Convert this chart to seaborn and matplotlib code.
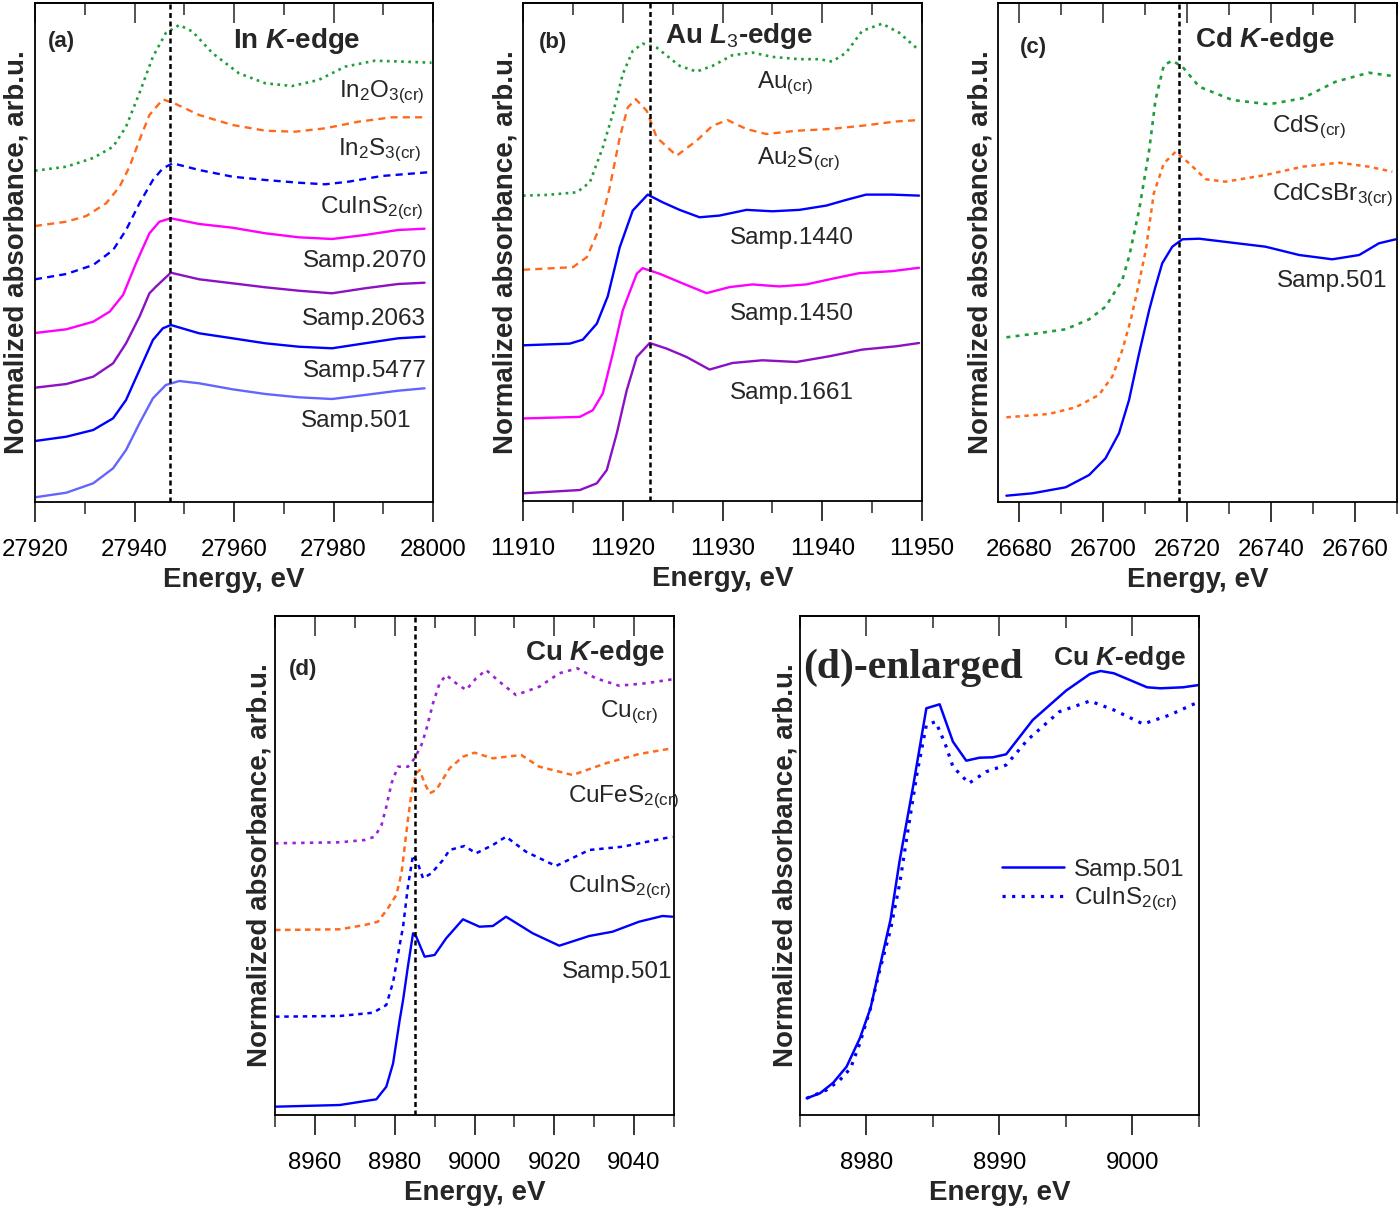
import numpy as np
import pandas as pd
import matplotlib
matplotlib.use("Agg")
import matplotlib.pyplot as plt
import seaborn as sns
from matplotlib.ticker import MultipleLocator, NullFormatter

# ---------------- data (normalized absorbance with vertical offsets, arb.u.) ----------------
# Panel (a): In K-edge
a_In2O3_E = [27920, 27926.3, 27931.7, 27935.7, 27938.3, 27941, 27943.7, 27946.3, 27949, 27951.7,
             27955.7, 27961, 27966.3, 27971.7, 27977, 27982.3, 27988.3, 27994.3, 27999.7]
a_In2O3_y = [3.313, 3.353, 3.44, 3.553, 3.753, 4.09, 4.453, 4.69, 4.77, 4.703,
             4.487, 4.287, 4.187, 4.16, 4.22, 4.353, 4.413, 4.403, 4.393]
a_In2S3_E = [27920, 27926.3, 27930.3, 27934.3, 27937, 27939, 27941, 27943, 27945.7, 27948.3,
             27953, 27959.7, 27966.3, 27972.3, 27978.3, 27985, 27991.7, 27998.3]
a_In2S3_y = [2.76, 2.803, 2.86, 2.987, 3.153, 3.353, 3.62, 3.87, 4.027, 3.98,
             3.87, 3.77, 3.713, 3.703, 3.737, 3.803, 3.847, 3.847]
a_CuInS2_E = [27920, 27926.3, 27931.7, 27935.7, 27938.3, 27941, 27943.7, 27945.7, 27947.7, 27953,
              27959.7, 27966.3, 27973, 27978.3, 27983, 27989.7, 27999.7]
a_CuInS2_y = [2.227, 2.28, 2.37, 2.52, 2.72, 2.987, 3.22, 3.337, 3.387, 3.32,
              3.253, 3.22, 3.193, 3.177, 3.203, 3.26, 3.3]
a_s2070_E = [27920, 27926.3, 27931.7, 27935, 27937.7, 27940.3, 27943, 27945, 27947.3, 27953,
             27959.7, 27966.3, 27973, 27979.7, 27986.3, 27993, 27998.3]
a_s2070_y = [1.69, 1.727, 1.803, 1.903, 2.07, 2.387, 2.687, 2.803, 2.837, 2.78,
             2.743, 2.687, 2.647, 2.63, 2.67, 2.72, 2.733]
a_s2063_E = [27920, 27926.3, 27931.7, 27935.7, 27938.3, 27941, 27943, 27944.3, 27947.3, 27953,
             27959.7, 27966.3, 27973, 27979.7, 27986.3, 27993, 27998.3]
a_s2063_y = [1.143, 1.18, 1.253, 1.387, 1.587, 1.853, 2.087, 2.153, 2.293, 2.227,
             2.187, 2.147, 2.113, 2.087, 2.137, 2.18, 2.193]
a_s5477_E = [27920, 27926.3, 27931.7, 27935.7, 27938.3, 27941, 27943.7, 27945.7, 27947.3, 27953,
             27959.7, 27966.3, 27973, 27979.7, 27986.3, 27993, 27998.3]
a_s5477_y = [0.61, 0.653, 0.72, 0.837, 1.02, 1.32, 1.62, 1.737, 1.77, 1.687,
             1.637, 1.587, 1.553, 1.537, 1.587, 1.637, 1.653]
a_s501_E = [27920, 27926.3, 27931.7, 27935.7, 27938.3, 27941, 27943.7, 27946.3, 27949, 27953,
            27959.7, 27966.3, 27973, 27979.7, 27986.3, 27993, 27998.3]
a_s501_y = [0.047, 0.093, 0.187, 0.337, 0.52, 0.787, 1.037, 1.17, 1.21, 1.187,
            1.127, 1.08, 1.047, 1.03, 1.07, 1.113, 1.137]
a_edge = 27947.2

# Panel (b): Au L3-edge
b_Au_E = [11910.0, 11912.4, 11915.4, 11916.7, 11918.0, 11919.0, 11920.0, 11921.0, 11922.0, 11923.4,
          11925.7, 11927.4, 11929.0, 11931.0, 11933.0, 11935.0, 11937.7, 11939.7, 11941.0, 11942.4,
          11944.0, 11946.0, 11947.7, 11949.7]
b_Au_y = [3.06, 3.067, 3.093, 3.193, 3.543, 3.877, 4.277, 4.51, 4.583, 4.543,
          4.36, 4.303, 4.36, 4.467, 4.493, 4.45, 4.427, 4.427, 4.403, 4.493,
          4.71, 4.783, 4.693, 4.517]
b_Au2S_E = [11910.0, 11915.0, 11916.4, 11917.7, 11918.7, 11919.7, 11920.5, 11921.3, 11922.4, 11923.4,
            11925.4, 11927.4, 11929.0, 11930.5, 11932.4, 11934.4, 11937.4, 11940.7, 11944.0, 11947.4, 11949.7]
b_Au2S_y = [2.317, 2.343, 2.443, 2.743, 3.143, 3.643, 3.943, 4.027, 3.91, 3.643,
            3.46, 3.61, 3.76, 3.817, 3.727, 3.677, 3.71, 3.727, 3.76, 3.803, 3.817]
b_s1440_E = [11910.0, 11914.7, 11916.0, 11917.4, 11918.5, 11919.7, 11921.0, 11922.5, 11924.0, 11925.7,
             11927.7, 11929.7, 11932.4, 11935.0, 11937.7, 11940.4, 11942.4, 11944.4, 11947.0, 11949.7]
b_s1440_y = [1.56, 1.577, 1.617, 1.777, 2.052, 2.543, 2.91, 3.07, 2.993, 2.917,
             2.843, 2.86, 2.917, 2.903, 2.917, 2.96, 3.017, 3.07, 3.07, 3.06]
b_s1450_E = [11910.0, 11915.7, 11917.0, 11918.0, 11919.0, 11920.0, 11920.5, 11921.4, 11922.0, 11923.7,
             11925.7, 11928.4, 11930.7, 11933.0, 11935.7, 11938.4, 11941.0, 11943.7, 11947.0, 11949.7]
b_s1450_y = [0.827, 0.843, 0.91, 1.077, 1.477, 1.91, 2.043, 2.277, 2.333, 2.277,
             2.193, 2.083, 2.143, 2.17, 2.15, 2.17, 2.227, 2.283, 2.303, 2.337]
b_s1661_E = [11910.0, 11915.7, 11917.4, 11918.4, 11919.4, 11920.4, 11921.4, 11922.7, 11924.4, 11926.4,
             11928.7, 11931.0, 11934.0, 11937.4, 11940.7, 11944.0, 11947.4, 11949.7]
b_s1661_y = [0.077, 0.11, 0.177, 0.31, 0.677, 1.11, 1.443, 1.583, 1.527, 1.443,
             1.317, 1.383, 1.41, 1.393, 1.45, 1.517, 1.55, 1.583]
b_edge = 11922.7

# Panel (c): Cd K-edge
c_CdS_E = [26677.0, 26683.2, 26691.1, 26696.7, 26700.6, 26704.6, 26706.2, 26708.6, 26711.0, 26712.5,
           26714.5, 26716.5, 26718.9, 26722.9, 26730.8, 26739.5, 26747.5, 26755.4, 26763.3, 26768.9]
c_CdS_y = [1.647, 1.68, 1.727, 1.827, 1.953, 2.22, 2.453, 2.92, 3.52, 4.02,
           4.37, 4.413, 4.353, 4.153, 4.02, 3.977, 4.037, 4.203, 4.293, 4.26]
c_CdCsBr3_E = [26677.0, 26687.1, 26693.5, 26699.0, 26702.2, 26704.6, 26706.6, 26708.2, 26710.2, 26712.1,
               26714.5, 26717.3, 26720.5, 26724.5, 26729.2, 26738.7, 26747.5, 26756.2, 26763.3, 26768.9]
c_CdCsBr3_y = [0.847, 0.88, 0.947, 1.07, 1.253, 1.52, 1.82, 2.12, 2.52, 3.087,
               3.387, 3.503, 3.387, 3.227, 3.203, 3.27, 3.353, 3.393, 3.353, 3.303]
c_s501_E = [26677.0, 26683.2, 26691.1, 26696.7, 26700.6, 26703.8, 26706.2, 26708.6, 26711.0, 26712.4,
            26714.1, 26716.5, 26718.9, 26722.9, 26730.8, 26738.7, 26746.7, 26754.6, 26761.0, 26765.7, 26769.7]
c_s501_y = [0.063, 0.087, 0.147, 0.27, 0.437, 0.687, 1.02, 1.487, 1.92, 2.14,
            2.387, 2.553, 2.627, 2.633, 2.593, 2.553, 2.47, 2.427, 2.47, 2.587, 2.627]
c_edge = 26718.1

# Panel (d): Cu K-edge
d_Cu_E = [8950.0, 8966.25, 8972.5, 8975.0, 8976.7, 8977.9, 8979.2, 8980.8, 8983.3, 8985.0,
          8986.7, 8987.9, 8989.6, 8991.25, 8992.9, 8995.4, 8997.9, 9000.4, 9002.9, 9006.25,
          9010.4, 9016.25, 9021.25, 9025.8, 9030.4, 9036.25, 9042.9, 9049.6]
d_Cu_y = [2.717, 2.727, 2.75, 2.783, 2.9, 3.083, 3.317, 3.483, 3.483, 3.567,
          3.7, 3.85, 4.117, 4.317, 4.4, 4.317, 4.25, 4.367, 4.45, 4.333,
          4.2, 4.283, 4.417, 4.467, 4.367, 4.293, 4.317, 4.357]
d_CuFeS2_E = [8950.0, 8966.25, 8972.5, 8975.8, 8978.3, 8980.4, 8981.7, 8982.5, 8983.3, 8984.2,
              8985.4, 8986.25, 8987.5, 8988.75, 8990.4, 8993.75, 8997.1, 9000.0, 9004.6, 9011.7,
              9016.25, 9024.6, 9032.9, 9041.25, 9049.6]
d_CuFeS2_y = [1.85, 1.857, 1.9, 1.933, 2.067, 2.2, 2.417, 2.683, 2.95, 3.217,
              3.417, 3.45, 3.317, 3.217, 3.25, 3.467, 3.583, 3.623, 3.567, 3.6,
              3.483, 3.4, 3.517, 3.61, 3.667]
d_CuInS2_E = [8950.0, 8966.25, 8974.6, 8977.9, 8979.6, 8981.25, 8982.1, 8983.3, 8984.6, 8985.8,
              8987.1, 8989.2, 8992.1, 8993.75, 8997.5, 9000.4, 9004.6, 9007.9, 9012.9, 9020.4,
              9028.75, 9037.1, 9049.6]
d_CuInS2_y = [0.983, 0.99, 1.023, 1.1, 1.33, 1.7, 1.883, 2.283, 2.6, 2.517,
              2.367, 2.417, 2.55, 2.65, 2.69, 2.617, 2.7, 2.783, 2.633, 2.49,
              2.65, 2.683, 2.783]
d_s501_E = [8950.0, 8966.25, 8975.4, 8977.9, 8979.6, 8981.25, 8982.1, 8983.3, 8984.6, 8985.4,
            8987.5, 8990.0, 8992.9, 8997.1, 9001.25, 9004.6, 9007.9, 9014.6, 9021.25, 9028.75,
            9034.6, 9041.25, 9047.1, 9049.6]
d_s501_y = [0.083, 0.1, 0.157, 0.283, 0.517, 0.95, 1.15, 1.483, 1.817, 1.783,
            1.583, 1.6, 1.767, 1.957, 1.883, 1.89, 1.983, 1.817, 1.693, 1.79,
            1.833, 1.933, 1.99, 1.983]
d_edge = 8985.1

# Panel (d)-enlarged
e_s501_E = [8975.5, 8976.5, 8977.5, 8978.5, 8979.5, 8980.3, 8981.0, 8981.8, 8982.5, 8983.5,
            8984.5, 8985.5, 8986.5, 8987.5, 8988.5, 8989.5, 8990.5, 8992.5, 8995.0, 8996.8,
            8997.6, 8998.6, 9001.1, 9002.1, 9003.8, 9005.0]
e_s501_y = [0.167, 0.217, 0.323, 0.483, 0.767, 1.067, 1.483, 1.95, 2.55, 3.283,
            4.067, 4.107, 3.733, 3.543, 3.573, 3.577, 3.607, 3.95, 4.243, 4.41,
            4.44, 4.417, 4.277, 4.267, 4.277, 4.3]
e_CuInS2_E = [8975.5, 8977.0, 8978.0, 8978.8, 8979.5, 8980.3, 8981.0, 8981.8, 8982.5, 8983.0,
              8983.8, 8984.5, 8985.2, 8985.9, 8986.5, 8987.7, 8989.0, 8990.5, 8992.1, 8994.5,
              8996.8, 8998.6, 9000.8, 9002.8, 9005.0]
e_CuInS2_y = [0.167, 0.25, 0.35, 0.467, 0.717, 1.067, 1.45, 1.85, 2.317, 2.75,
              3.417, 3.9, 3.933, 3.717, 3.483, 3.317, 3.433, 3.5, 3.75, 4.033,
              4.14, 4.05, 3.91, 4.0, 4.133]

# ---------------- style ----------------
sns.set_style("white")
plt.rcParams["font.family"] = ["Liberation Sans", "DejaVu Sans"]
plt.rcParams["mathtext.fontset"] = "custom"
plt.rcParams["mathtext.rm"] = "Liberation Sans"
plt.rcParams["mathtext.it"] = "Liberation Sans:italic:bold"
plt.rcParams["mathtext.bf"] = "Liberation Sans:bold"
plt.rcParams["mathtext.default"] = "regular"

GREEN = "#1f9d3a"
ORANGE = "#ff6a1a"
BLUE = "#0000ff"
MAGENTA = "#ff00ff"
PURPLE = "#8c10c4"
PURPLE_D = "#9a22d6"
LBLUE = "#6464ff"

DOT = (0, (1, 1.7))
DASH = (0, (3, 2.2))

W, H = 1400, 1209
fig = plt.figure(figsize=(W / 100, H / 100), dpi=100)


def make_ax(l, r, t, b):
    return fig.add_axes([l / W, (H - b) / H, (r - l) / W, (b - t) / H])


ax_a = make_ax(35, 433, 3, 502)
ax_b = make_ax(523, 922, 3, 501)
ax_c = make_ax(998, 1397, 3, 502)
ax_d = make_ax(275, 674, 616, 1115)
ax_e = make_ax(800, 1199, 616, 1115)


def style_axes(ax, xlim, major, minor, ylabel_pad=3):
    ax.set_xlim(*xlim)
    ax.set_ylim(0, 4.99)
    ax.set_yticks([])
    ax.xaxis.set_major_locator(MultipleLocator(major))
    ax.xaxis.set_minor_locator(MultipleLocator(minor))
    ax.tick_params(axis="x", which="major", direction="out", length=14.4, width=1.1,
                   pad=12.5, labelsize=17.3, top=False, bottom=True, colors="black")
    ax.tick_params(axis="x", which="minor", direction="out", length=8.6, width=1.1,
                   top=False, bottom=True)
    sec = ax.secondary_xaxis("top")
    sec.xaxis.set_major_locator(MultipleLocator(major))
    sec.xaxis.set_minor_locator(MultipleLocator(minor))
    sec.xaxis.set_major_formatter(NullFormatter())
    sec.tick_params(which="major", direction="in", length=14.4, width=1.1)
    sec.tick_params(which="minor", direction="in", length=8.6, width=1.1)
    sec.spines["top"].set_linewidth(1.3)
    for sp in ax.spines.values():
        sp.set_linewidth(1.3)
        sp.set_color("black")
        sp.set_visible(True)
    ax.set_xlabel("Energy, eV", fontsize=20, fontweight="bold", labelpad=4)
    ax.set_ylabel("Normalized absorbance, arb.u.", fontsize=20, fontweight="bold",
                  labelpad=ylabel_pad)


def curve(ax, E, y, color, ls="-", lw=1.7, label=None):
    sns.lineplot(x=np.array(E), y=np.array(y), ax=ax, color=color, linestyle=ls,
                 linewidth=lw, errorbar=None, label=label, legend=False)


def edge(ax, x):
    ax.axvline(x, color="black", linestyle=(0, (2.0, 1.4)), linewidth=1.8, zorder=5)


def lab(ax, x, y, s, ha="left", size=17.5):
    ax.text(x, y, s, transform=ax.transAxes, ha=ha, va="baseline", fontsize=size)


def title(ax, x, y, s, size=20):
    ax.text(x, y, s, transform=ax.transAxes, ha="left", va="baseline",
            fontsize=size, fontweight="bold")


# ---------------- (a) ----------------
ax = ax_a
curve(ax, a_In2O3_E, a_In2O3_y, GREEN, DOT, 1.9)
curve(ax, a_In2S3_E, a_In2S3_y, ORANGE, DASH, 1.7)
curve(ax, a_CuInS2_E, a_CuInS2_y, BLUE, DASH, 1.7)
curve(ax, a_s2070_E, a_s2070_y, MAGENTA)
curve(ax, a_s2063_E, a_s2063_y, PURPLE)
curve(ax, a_s5477_E, a_s5477_y, BLUE)
curve(ax, a_s501_E, a_s501_y, LBLUE)
edge(ax, a_edge)
style_axes(ax, (27920, 28000), 20, 10, ylabel_pad=4)
lab(ax, 0.980, 0.812, r"In$_2$O$_{3(cr)}$", ha="right")
lab(ax, 0.970, 0.695, r"In$_2$S$_{3(cr)}$", ha="right")
lab(ax, 0.975, 0.579, r"CuInS$_{2(cr)}$", ha="right")
lab(ax, 0.985, 0.471, "Samp.2070", ha="right")
lab(ax, 0.982, 0.355, "Samp.2063", ha="right")
lab(ax, 0.985, 0.250, "Samp.5477", ha="right")
lab(ax, 0.947, 0.150, "Samp.501", ha="right")
title(ax, 0.033, 0.912, "(a)", size=16)
ax.text(0.658, 0.909, r"In $\mathit{K}$-edge", transform=ax.transAxes, ha="center",
        va="baseline", fontsize=20, fontweight="bold")

# ---------------- (b) ----------------
ax = ax_b
curve(ax, b_Au_E, b_Au_y, GREEN, DOT, 1.9)
curve(ax, b_Au2S_E, b_Au2S_y, ORANGE, DASH, 1.7)
curve(ax, b_s1440_E, b_s1440_y, BLUE)
curve(ax, b_s1450_E, b_s1450_y, MAGENTA)
curve(ax, b_s1661_E, b_s1661_y, PURPLE)
edge(ax, b_edge)
style_axes(ax, (11910, 11950), 10, 5)
lab(ax, 0.586, 0.829, r"Au$_{(cr)}$")
lab(ax, 0.586, 0.677, r"Au$_2$S$_{(cr)}$")
lab(ax, 0.519, 0.516, "Samp.1440")
lab(ax, 0.519, 0.364, "Samp.1450")
lab(ax, 0.519, 0.204, "Samp.1661")
title(ax, 0.041, 0.910, "(b)", size=16)
title(ax, 0.356, 0.920, r"Au $\mathit{L_3}$-edge")

# ---------------- (c) ----------------
ax = ax_c
curve(ax, c_CdS_E, c_CdS_y, GREEN, (0, (1.5, 2.0)), 1.9)
curve(ax, c_CdCsBr3_E, c_CdCsBr3_y, ORANGE, (0, (1.8, 1.8)), 1.8)
curve(ax, c_s501_E, c_s501_y, BLUE)
edge(ax, c_edge)
style_axes(ax, (26675, 26770), 20, 10)
lab(ax, 0.686, 0.742, r"CdS$_{(cr)}$")
lab(ax, 0.686, 0.605, r"CdCsBr$_{3(cr)}$")
lab(ax, 0.698, 0.431, "Samp.501")
title(ax, 0.055, 0.899, "(c)", size=16)
title(ax, 0.494, 0.912, r"Cd $\mathit{K}$-edge")

# ---------------- (d) ----------------
ax = ax_d
curve(ax, d_Cu_E, d_Cu_y, PURPLE_D, (0, (1.3, 2.0)), 1.9)
curve(ax, d_CuFeS2_E, d_CuFeS2_y, ORANGE, (0, (2.2, 1.8)), 1.8)
curve(ax, d_CuInS2_E, d_CuInS2_y, BLUE, (0, (1.8, 1.9)), 1.8)
curve(ax, d_s501_E, d_s501_y, BLUE)
edge(ax, d_edge)
style_axes(ax, (8950, 9050), 20, 10, ylabel_pad=2)
lab(ax, 0.815, 0.798, r"Cu$_{(cr)}$")
lab(ax, 0.735, 0.628, r"CuFeS$_{2(cr)}$")
lab(ax, 0.735, 0.447, r"CuInS$_{2(cr)}$")
lab(ax, 0.718, 0.274, "Samp.501")
title(ax, 0.036, 0.882, "(d)", size=16)
title(ax, 0.627, 0.912, r"Cu $\mathit{K}$-edge")

# ---------------- (d)-enlarged ----------------
ax = ax_e
curve(ax, e_s501_E, e_s501_y, BLUE, "-", 1.8, label="Samp.501")
curve(ax, e_CuInS2_E, e_CuInS2_y, BLUE, (0, (1, 2.0)), 2.3, label=r"CuInS$_{2(cr)}$")
style_axes(ax, (8975, 9005), 10, 5, ylabel_pad=1)
ax.text(0.007, 0.875, "(d)-enlarged", transform=ax.transAxes, ha="left", va="baseline",
        fontsize=30, fontweight="bold", family=["Liberation Serif", "DejaVu Serif"])
title(ax, 0.635, 0.902, r"Cu $\mathit{K}$-edge", size=19)
leg = ax.legend(loc="center left", bbox_to_anchor=(0.5055, 0.459), frameon=False,
                fontsize=17.5, handlelength=2.55, handletextpad=0.42, labelspacing=0.2,
                borderpad=0, borderaxespad=0)

fig.savefig("out.png", dpi=100)
